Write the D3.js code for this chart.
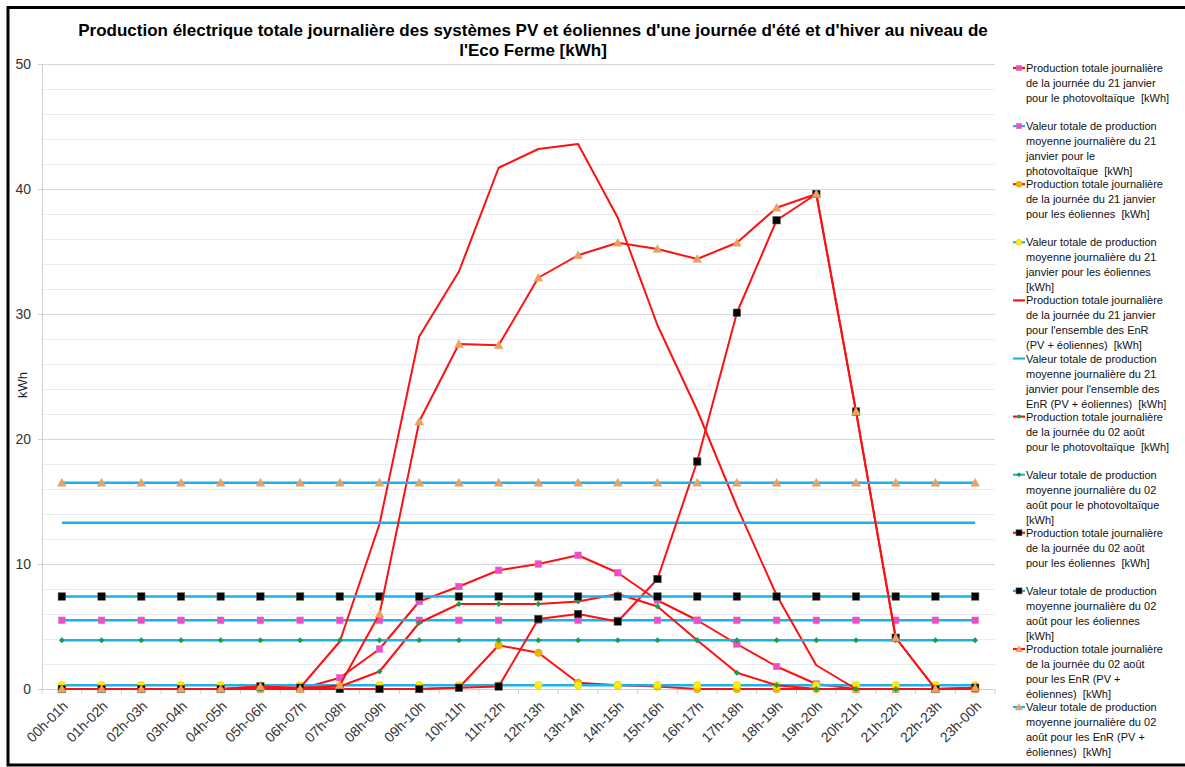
<!DOCTYPE html>
<html>
<head>
<meta charset="utf-8">
<script src="https://cdn.jsdelivr.net/npm/d3@7"></script>
<style>
  html, body { margin: 0; padding: 0; background: #fff; }
  svg { display: block; font-family: "Liberation Sans", Arial, sans-serif; }
</style>
</head>
<body>
<svg id="chart" width="1185" height="767"></svg>
<script>
// ---- Data ----
const categories = ["00h-01h","01h-02h","02h-03h","03h-04h","04h-05h","05h-06h","06h-07h","07h-08h","08h-09h","09h-10h","10h-11h","11h-12h","12h-13h","13h-14h","14h-15h","15h-16h","16h-17h","17h-18h","18h-19h","19h-20h","20h-21h","21h-22h","22h-23h","23h-00h"];

const pvJan   = [0,0,0,0,0,0,0,0.9,3.2,7.0,8.2,9.5,10.0,10.7,9.3,7.1,5.5,3.6,1.8,0.4,0,0,0,0];
const pvJanAvg = 5.5;
const windJan = [0,0,0,0,0,0,0,0,0,0,0.1,3.5,2.9,0.5,0.3,0.2,0,0,0,0,0,0,0,0];
const windJanAvg = 0.3;
const enrJan  = [0,0,0,0,0,0,0.1,3.8,13.2,28.2,33.4,41.7,43.2,43.6,37.7,29.1,22.3,14.6,7.5,1.9,0,0,0,0];
const enrJanAvg = 13.3;
const pvAug   = [0,0,0,0,0,0,0.1,0.2,1.4,5.3,6.8,6.8,6.8,7.0,7.6,6.6,3.9,1.3,0.3,0,0,0,0,0];
const pvAugAvg = 3.9;
const windAug = [0,0,0,0,0,0.2,0.1,0,0,0,0.1,0.2,5.6,6.0,5.4,8.8,18.2,30.1,37.5,39.6,22.2,4.1,0,0.1];
const windAugAvg = 7.4;
const enrAug  = [0,0,0,0,0,0.2,0,0.3,6.0,21.4,27.6,27.5,32.9,34.7,35.7,35.2,34.4,35.7,38.5,39.6,22.2,4.1,0,0.1];
const enrAugAvg = 16.5;

const yTicks = [0,10,20,30,40,50];
const yMinor = [2,4,6,8,12,14,16,18,22,24,26,28,32,34,36,38,42,44,46,48];

const titleLines = [
  "Production électrique totale journalière des systèmes PV et éoliennes d'une journée d'été et d'hiver au niveau de",
  "l'Eco Ferme [kWh]"
];
const yAxisTitle = "kWh";

const legendLabels = [
  ["Production totale journalière","de la journée du 21 janvier","pour le photovoltaïque  [kWh]"],
  ["Valeur totale de production","moyenne journalière du 21","janvier pour le","photovoltaïque  [kWh]"],
  ["Production totale journalière","de la journée du 21 janvier","pour les éoliennes  [kWh]"],
  ["Valeur totale de production","moyenne journalière du 21","janvier pour les éoliennes","[kWh]"],
  ["Production totale journalière","de la journée du 21 janvier","pour l'ensemble des EnR","(PV + éoliennes)  [kWh]"],
  ["Valeur totale de production","moyenne journalière du 21","janvier pour l'ensemble des","EnR (PV + éoliennes)  [kWh]"],
  ["Production totale journalière","de la journée du 02 août","pour le photovoltaïque  [kWh]"],
  ["Valeur totale de production","moyenne journalière du 02","août pour le photovoltaïque","[kWh]"],
  ["Production totale journalière","de la journée du 02 août","pour les éoliennes  [kWh]"],
  ["Valeur totale de production","moyenne journalière du 02","août pour les éoliennes","[kWh]"],
  ["Production totale journalière","de la journée du 02 août","pour les EnR (PV +","éoliennes)  [kWh]"],
  ["Valeur totale de production","moyenne journalière du 02","août pour les EnR (PV +","éoliennes)  [kWh]"]
];

// ---- Styles ----
const RED = "#ff1010", CYAN = "#1ab2ea";
const MAGENTA = "#f04cc8", YELLOW = "#ffee00", ORANGE = "#f2b200", GREEN = "#1a9e4a", BLACK = "#000", TRI = "#f2a055";

const series = [
  {values: pvJan,   avg: null,       line: RED,  marker: "square",  fill: MAGENTA, size: 6.5},
  {values: null,    avg: pvJanAvg,   line: CYAN, marker: "square",  fill: MAGENTA, size: 6.5},
  {values: windJan, avg: null,       line: RED,  marker: "circle",  fill: ORANGE,  size: 7.5},
  {values: null,    avg: windJanAvg, line: CYAN, marker: "circle",  fill: YELLOW,  size: 7.5},
  {values: enrJan,  avg: null,       line: RED,  marker: null},
  {values: null,    avg: enrJanAvg,  line: CYAN, marker: null},
  {values: pvAug,   avg: null,       line: RED,  marker: "diamond", fill: GREEN,   size: 6},
  {values: null,    avg: pvAugAvg,   line: CYAN, marker: "diamond", fill: GREEN,   size: 6},
  {values: windAug, avg: null,       line: RED,  marker: "square",  fill: BLACK,   size: 7.5},
  {values: null,    avg: windAugAvg, line: CYAN, marker: "square",  fill: BLACK,   size: 7.5},
  {values: enrAug,  avg: null,       line: RED,  marker: "triangle",fill: TRI,     size: 9},
  {values: null,    avg: enrAugAvg,  line: CYAN, marker: "triangle",fill: TRI,     size: 9}
];

// ---- Layout ----
const svg = d3.select("#chart");
const plot = {left: 42, right: 995, top: 64, bottom: 689};

const x = d3.scaleBand().domain(categories).range([plot.left, plot.right]).paddingInner(0).paddingOuter(0);
const y = d3.scaleLinear().domain([0, 50]).range([plot.bottom, plot.top]);
const cx = c => x(c) + x.bandwidth() / 2;

// frame
svg.append("rect").attr("x", 8).attr("y", 7.5).attr("width", 1190).attr("height", 757.5)
  .attr("fill", "#fff").attr("stroke", "#000").attr("stroke-width", 3);

// title
svg.append("g").selectAll("text").data(titleLines).join("text")
  .attr("x", 533).attr("y", (d, i) => 36 + i * 20)
  .attr("text-anchor", "middle").attr("font-weight", "bold").attr("font-size", 17).attr("fill", "#000")
  .text(d => d);

// minor gridlines
svg.append("g").selectAll("line").data(yMinor).join("line")
  .attr("x1", plot.left).attr("x2", plot.right)
  .attr("y1", d => Math.round(y(d)) + 0.5).attr("y2", d => Math.round(y(d)) + 0.5)
  .attr("stroke", "#ececec").attr("stroke-width", 1.2);

// y axis with major gridlines
const yAxis = d3.axisLeft(y).tickValues(yTicks).tickSize(4).tickPadding(7).tickFormat(d3.format("d"));
const yg = svg.append("g").attr("transform", `translate(${plot.left},0)`).call(yAxis);
yg.select(".domain").attr("stroke", "#cfcfcf");
yg.selectAll(".tick line").attr("stroke", "#cfcfcf");
yg.selectAll(".tick text").attr("font-size", 14).attr("fill", "#333").attr("font-family", "Liberation Sans, Arial, sans-serif");
yg.selectAll(".tick").append("line").attr("x1", 0).attr("x2", plot.right - plot.left)
  .attr("stroke", d => d === 0 ? "#cfcfcf" : "#d6d6d6").attr("stroke-width", 1.2);

// x axis
const xAxis = d3.axisBottom(x).tickSize(0).tickPadding(0);
const xg = svg.append("g").attr("transform", `translate(0,${plot.bottom})`).call(xAxis);
xg.select(".domain").attr("stroke", "#cfcfcf");
xg.selectAll(".tick text")
  .attr("font-size", 14).attr("fill", "#333").attr("font-family", "Liberation Sans, Arial, sans-serif")
  .attr("text-anchor", "end").attr("dy", 0)
  .attr("transform", "translate(7,18) rotate(-45)");
// boundary tick marks
const bounds = categories.map(c => x(c)).concat([plot.right]);
xg.append("g").selectAll("line").data(bounds).join("line")
  .attr("x1", d => d).attr("x2", d => d).attr("y1", 0).attr("y2", 5)
  .attr("stroke", "#cfcfcf");

// y axis title
svg.append("text").attr("transform", "translate(27,385) rotate(-90)")
  .attr("text-anchor", "middle").attr("font-size", 13).attr("fill", "#222").text(yAxisTitle);

// ---- Marks ----
function drawMarker(g, type, fill, size) {
  const h = size / 2;
  if (type === "square") {
    return g.append("rect").attr("x", -h).attr("y", -h).attr("width", size).attr("height", size)
      .attr("fill", fill).attr("stroke", fill === BLACK ? "#5a6050" : "#d070c0").attr("stroke-width", 0.6);
  } else if (type === "circle") {
    return g.append("circle").attr("r", h).attr("fill", fill).attr("stroke", fill === YELLOW ? "#e0d000" : "#e0a000").attr("stroke-width", 0.6);
  } else if (type === "diamond") {
    return g.append("path").attr("d", `M0,${-h}L${h},0L0,${h}L${-h},0Z`).attr("fill", fill);
  } else if (type === "triangle") {
    return g.append("path").attr("d", `M0,${-h}L${h},${h*0.8}L${-h},${h*0.8}Z`).attr("fill", fill).attr("stroke", "#c0b0a0").attr("stroke-width", 0.4);
  }
}

const lineGen = d3.line().x(d => cx(d.c)).y(d => y(d.v));
const marks = svg.append("g");
series.forEach(s => {
  const pts = categories.map((c, i) => ({c, v: s.values ? s.values[i] : s.avg}));
  const g = marks.append("g");
  g.append("path").datum(pts).attr("d", lineGen).attr("fill", "none")
    .attr("stroke", s.line).attr("stroke-width", s.avg !== null ? 2.6 : 2).attr("stroke-linejoin", "round");
  if (s.marker) {
    pts.forEach(p => {
      const mg = g.append("g").attr("transform", `translate(${cx(p.c)},${y(p.v)})`);
      drawMarker(mg, s.marker, s.fill, s.size);
    });
  }
});

// ---- Legend ----
const legend = svg.append("g");
series.forEach((s, i) => {
  const top = 68 + i * 58.1;
  const g = legend.append("g").attr("transform", `translate(0,${top})`);
  g.append("line").attr("x1", 1013).attr("x2", 1025).attr("y1", 0).attr("y2", 0)
    .attr("stroke", s.line).attr("stroke-width", 2.2);
  if (s.marker) {
    const mg = g.append("g").attr("transform", "translate(1019,0)");
    drawMarker(mg, s.marker, s.fill, s.size * 0.8);
  }
  g.append("g").selectAll("text").data(legendLabels[i]).join("text")
    .attr("x", 1026).attr("y", (d, j) => 4 + j * 15)
    .attr("font-size", 11).attr("fill", "#111").style("white-space", "pre")
    .text(d => d);
});
</script>
</body>
</html>
